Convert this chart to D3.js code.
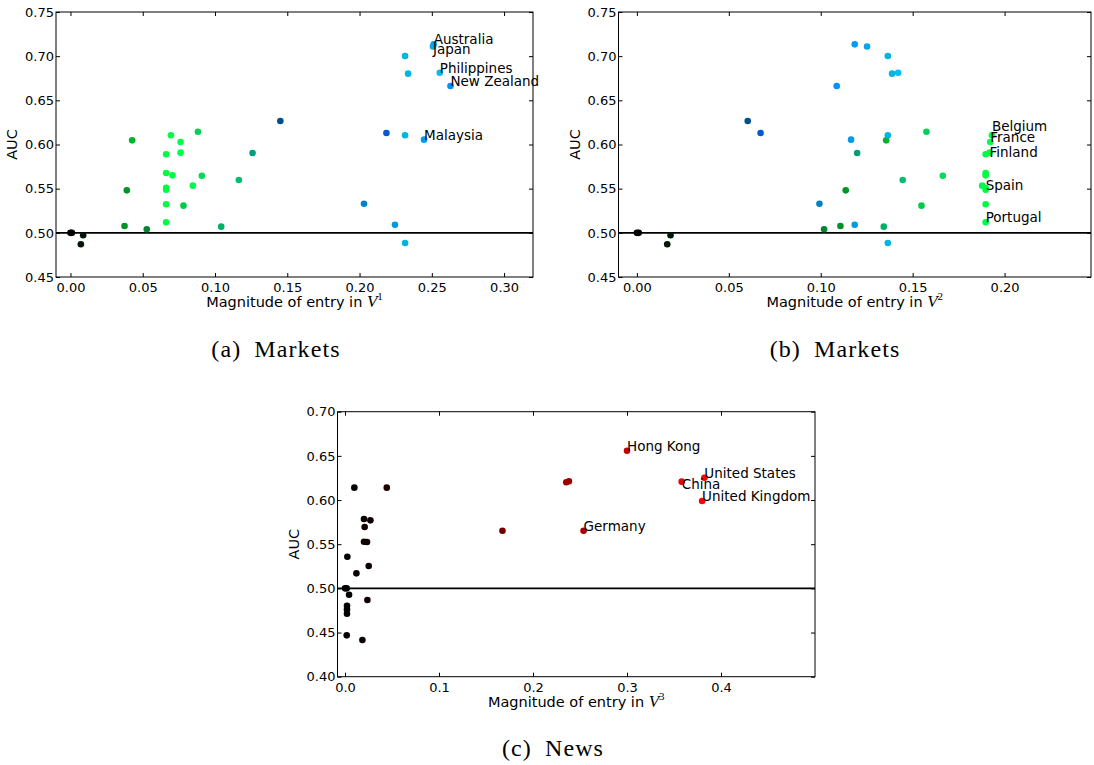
<!DOCTYPE html>
<html>
<head>
<meta charset="utf-8">
<script src="https://cdn.jsdelivr.net/npm/d3@7"></script>
<style>
  body { margin: 0; background: #fff; }
  svg { display: block; }
  text { font-family: "DejaVu Sans", sans-serif; fill: #000; }
</style>
</head>
<body>
<svg id="chart" width="1094" height="765"></svg>
<script>
// markets: entry magnitudes in V1 and V2, and AUC per country
const marketV1 = [0, 0.001, 0.0088, 0.0072, 0.0374, 0.039, 0.0427, 0.0528, 0.0662, 0.0662,
  0.0662, 0.0662, 0.0662, 0.0662, 0.0695, 0.0706, 0.0762, 0.0762, 0.0782, 0.0847,
  0.0882, 0.0909, 0.1043, 0.1165, 0.1260, 0.1452, 0.2031, 0.2186, 0.2245, 0.2315,
  0.2315, 0.2315, 0.2336, 0.2446, 0.2513, 0.2508, 0.2555, 0.2629];
const marketV2 = [0, 0.001, 0.0183, 0.0165, 0.1107, 0.1136, 0.1356, 0.1018, 0.1897, 0.1897,
  0.1897, 0.1897, 0.1897, 0.1897, 0.1931, 0.1897, 0.1922, 0.1918, 0.1548, 0.1878,
  0.1575, 0.1664, 0.1343, 0.1446, 0.1198, 0.0603, 0.0993, 0.0673, 0.1185, 0.1365,
  0.1365, 0.1365, 0.1388, 0.1165, 0.1185, 0.1252, 0.1421, 0.1087];
const marketAUC = [0.500, 0.500, 0.4972, 0.487, 0.5077, 0.5481, 0.6047, 0.504, 0.5889, 0.5677,
  0.5511, 0.5489, 0.5323, 0.5119, 0.6104, 0.5651, 0.6028, 0.5908, 0.5308, 0.5534,
  0.6145, 0.5647, 0.5070, 0.5598, 0.5904, 0.6266, 0.5330, 0.6130, 0.5092, 0.7002,
  0.6104, 0.4885, 0.6802, 0.6055, 0.7134, 0.711, 0.6813, 0.6662];
const marketNames = ["", "", "", "", "", "", "", "", "", "",
  "", "Spain", "", "Portugal", "Belgium", "", "France", "Finland", "", "",
  "", "", "", "", "", "", "", "", "", "",
  "", "", "", "Malaysia", "Australia", "Japan", "Philippines", "New Zealand"];
const labelsA = ["Australia", "Japan", "Philippines", "New Zealand", "Malaysia"];
const labelsB = ["Belgium", "France", "Finland", "Spain", "Portugal"];

// news: entry magnitude in V3 and AUC
const newsV3 = [0, 0.0018, 0.0043, 0.0021, 0.0021, 0.0021, 0.0018, 0.0025, 0.0099, 0.0121,
  0.0185, 0.0202, 0.0209, 0.0202, 0.0234, 0.0270, 0.0252, 0.0238, 0.0444, 0.1675,
  0.2354, 0.2382, 0.2538, 0.3000, 0.3582, 0.3823, 0.3799];
const newsAUC = [0.500, 0.500, 0.4928, 0.4804, 0.4762, 0.4713, 0.4468, 0.5358, 0.6140, 0.5170,
  0.4415, 0.5785, 0.5694, 0.5528, 0.5525, 0.5770, 0.5253, 0.4868, 0.6140, 0.5653,
  0.6201, 0.6212, 0.5653, 0.6558, 0.6208, 0.6253, 0.5989];
const newsNames = ["", "", "", "", "", "", "", "", "", "",
  "", "", "", "", "", "", "", "", "", "",
  "", "", "Germany", "Hong Kong", "China", "United States", "United Kingdom"];

const svg = d3.select("#chart");

// colour: green from V2, blue from V1 (markets); red from V3 (news)
const g2 = d3.scaleLinear().domain([0, d3.max(marketV2)]).range([0, 255]);
const b1 = d3.scaleLinear().domain([0, d3.max(marketV1)]).range([0, 255]);
const r3 = d3.scaleLinear().domain([0, d3.max(newsV3)]).range([0, 255]);
const marketColor = i => d3.rgb(0, g2(marketV2[i]), b1(marketV1[i])).toString();
const newsColor = i => d3.rgb(r3(newsV3[i]), 0, 0).toString();

// small nudges where the original labels were moved off their point
const labelShift = { "Japan": 7.5, "Belgium": -4.5, "Finland": 4.5, "China": 7 };

const drawPanel = (p) => {
  const x = d3.scaleLinear().domain(p.xDomain).range([p.left, p.right]);
  const y = d3.scaleLinear().domain(p.yDomain).range([p.bottom, p.top]);
  const g = svg.append("g");

  const tickLen = 4;
  const xt = d3.range(0, p.xMax + 1e-9, p.xStep);
  const yt = d3.range(p.yDomain[0], p.yDomain[1] + 1e-9, 0.05);

  // bottom axis, ticks inside
  const xAxis = g.append("g")
    .attr("transform", `translate(0,${p.bottom})`)
    .call(d3.axisBottom(x).tickValues(xt).tickFormat(d3.format(p.xFmt))
      .tickSizeInner(-tickLen).tickSizeOuter(0).tickPadding(6));
  xAxis.select(".domain").remove();
  xAxis.selectAll("text").style("font-size", "13px");

  const yAxis = g.append("g")
    .attr("transform", `translate(${p.left},0)`)
    .call(d3.axisLeft(y).tickValues(yt).tickFormat(d3.format(".2f"))
      .tickSizeInner(-tickLen).tickSizeOuter(0).tickPadding(2));
  yAxis.select(".domain").remove();
  yAxis.selectAll("text").style("font-size", "13px");

  // mirrored ticks on top and right
  g.append("g").attr("transform", `translate(0,${p.top})`)
    .call(d3.axisTop(x).tickValues(xt).tickFormat("").tickSizeInner(-tickLen).tickSizeOuter(0))
    .select(".domain").remove();
  g.append("g").attr("transform", `translate(${p.right},0)`)
    .call(d3.axisRight(y).tickValues(yt).tickFormat("").tickSizeInner(-tickLen).tickSizeOuter(0))
    .select(".domain").remove();

  // chance line
  g.append("line")
    .attr("x1", p.left).attr("x2", p.right)
    .attr("y1", y(0.5)).attr("y2", y(0.5))
    .attr("stroke", "#000").attr("stroke-width", 1.6);

  const idx = d3.range(p.xs.length);
  g.append("g").selectAll("circle")
    .data(idx)
    .join("circle")
    .attr("cx", i => x(p.xs[i]))
    .attr("cy", i => y(p.ys[i]))
    .attr("r", 3.3)
    .attr("fill", p.color);

  g.append("g").selectAll("text")
    .data(idx.filter(i => p.labels.includes(p.names[i])))
    .join("text")
    .attr("x", i => x(p.xs[i]))
    .attr("y", i => y(p.ys[i]) + (labelShift[p.names[i]] || 0))
    .style("font-size", "13.5px")
    .text(i => p.names[i]);

  // frame
  g.append("rect")
    .attr("x", p.left).attr("y", p.top)
    .attr("width", p.right - p.left).attr("height", p.bottom - p.top)
    .attr("fill", "none").attr("stroke", "#000").attr("stroke-width", 1);

  // axis labels
  const xl = g.append("text")
    .attr("x", (p.left + p.right) / 2)
    .attr("y", p.bottom + 30)
    .attr("text-anchor", "middle")
    .style("font-size", "14.5px");
  xl.append("tspan").text("Magnitude of entry in ");
  xl.append("tspan").text("V")
    .style("font-family", "'Liberation Serif', serif").style("font-style", "italic").style("font-size", "17px");
  xl.append("tspan").text(p.sup).attr("dy", -7)
    .style("font-family", "'Liberation Serif', serif").style("font-size", "11px");

  g.append("text")
    .attr("transform", `translate(${p.left - 39},${(p.top + p.bottom) / 2}) rotate(-90)`)
    .attr("text-anchor", "middle")
    .style("font-size", "14.5px")
    .text("AUC");

  g.append("text")
    .attr("x", p.capX).attr("y", p.capY)
    .attr("text-anchor", "middle")
    .style("font-family", "'Liberation Serif', serif")
    .style("font-size", "24px")
    .style("letter-spacing", "1.1px")
    .style("word-spacing", "6px")
    .text(p.caption);
};

drawPanel({
  left: 56, right: 533, top: 12, bottom: 277,
  xDomain: [-0.01, 0.32], yDomain: [0.45, 0.75], xMax: 0.30, xStep: 0.05, xFmt: ".2f",
  xs: marketV1, ys: marketAUC, names: marketNames, labels: labelsA,
  color: marketColor, sup: "1", caption: "(a) Markets", capX: 276, capY: 357
});

drawPanel({
  left: 618.5, right: 1091, top: 12, bottom: 277,
  xDomain: [-0.01, 0.247], yDomain: [0.45, 0.75], xMax: 0.20, xStep: 0.05, xFmt: ".2f",
  xs: marketV2, ys: marketAUC, names: marketNames, labels: labelsB,
  color: marketColor, sup: "2", caption: "(b) Markets", capX: 835, capY: 357
});

drawPanel({
  left: 337.5, right: 815, top: 411.7, bottom: 676.7,
  xDomain: [-0.008, 0.50], yDomain: [0.40, 0.70], xMax: 0.40, xStep: 0.1, xFmt: ".1f",
  xs: newsV3, ys: newsAUC, names: newsNames, labels: newsNames.filter(n => n),
  color: newsColor, sup: "3", caption: "(c) News", capX: 553, capY: 756
});
</script>
</body>
</html>
